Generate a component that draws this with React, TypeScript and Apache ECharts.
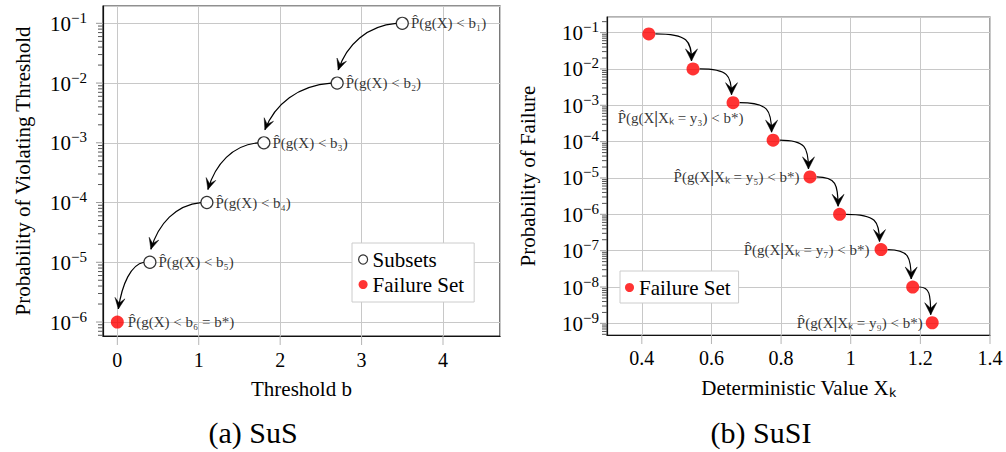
import React, { useEffect, useRef } from "react";
import * as echarts from "echarts";

const FONT = "Liberation Serif, serif";

// ---------- Panel (a) SuS ----------
const susThreshold = [3.5, 2.7, 1.8, 1.1, 0.4];
const susProb = [1e-1, 1e-2, 1e-3, 1e-4, 1e-5];
const susLabels = [
  "P̂(g(X) < b₁)",
  "P̂(g(X) < b₂)",
  "P̂(g(X) < b₃)",
  "P̂(g(X) < b₄)",
  "P̂(g(X) < b₅)",
];
const failThreshold = [0];
const failProb = [1e-6];
const failLabels = ["P̂(g(X) < b₆ = b*)"];
const leftXTicks = [0, 1, 2, 3, 4];
const leftYExps = [-6, -5, -4, -3, -2, -1];

// ---------- Panel (b) SuSI ----------
const susiX = [0.42, 0.547, 0.662, 0.777, 0.883, 0.968, 1.087, 1.178, 1.234];
const susiProb = [9.2e-2, 1e-2, 1.18e-3, 1.1e-4, 1.07e-5, 1e-6, 1.07e-7, 1e-8, 1.04e-9];
const susiLabels = [
  "",
  "",
  "P̂(g(X{bar||}Xₖ = y₃) < b*)",
  "",
  "P̂(g(X{bar||}Xₖ = y₅) < b*)",
  "",
  "P̂(g(X{bar||}Xₖ = y₇) < b*)",
  "",
  "P̂(g(X{bar||}Xₖ = y₉) < b*)",
];
const rightXTicks = [0.4, 0.6, 0.8, 1, 1.2, 1.4];
const rightYExps = [-9, -8, -7, -6, -5, -4, -3, -2, -1];

// axis ranges
const L_XMIN = -0.176, L_XMAX = 4.7;
const L_YMIN = Math.pow(10, -6.234), L_YMAX = Math.pow(10, -0.71);
const R_XMIN = 0.3, R_XMAX = 1.4;
const R_YMIN = Math.pow(10, -9.32), R_YMAX = Math.pow(10, -0.571);

// label placement config for panel (b)
const susiLabelCfg = [
  { show: false },
  { show: false },
  { show: true, position: "left", distance: 4, offset: [21, 15] },
  { show: false },
  { show: true, position: "left", distance: 4 },
  { show: false },
  { show: true, position: "left", distance: 5 },
  { show: false },
  { show: true, position: "left", distance: 3 },
];

function minorValues(lo: number, hi: number) {
  const out: number[] = [];
  for (let e = Math.floor(Math.log10(lo)); e <= Math.ceil(Math.log10(hi)); e++) {
    for (let m = 2; m <= 9; m++) {
      const v = m * Math.pow(10, e);
      if (v >= lo && v <= hi) out.push(v);
    }
  }
  return out;
}

function tickData(xt: number[], yexp: number[], lo: number, hi: number, px: number, py: number) {
  const d: number[][] = [];
  xt.forEach((v) => d.push([px, py, 0, v]));
  yexp.forEach((e) => d.push([px, py, 1, Math.pow(10, e)]));
  minorValues(lo, hi).forEach((v) => d.push([px, py, 2, v]));
  return d;
}

const renderTicks = (params: any, api: any) => {
  const kind = api.value(2);
  const v = api.value(3);
  const cs = params.coordSys;
  if (kind === 0) {
    const x = api.coord([v, api.value(1)])[0];
    return {
      type: "line",
      shape: { x1: x, y1: cs.y + cs.height, x2: x, y2: cs.y + cs.height + 9 },
      style: { stroke: "#b5b5b5", lineWidth: 1 },
    };
  }
  const y = api.coord([api.value(0), v])[1];
  const len = kind === 1 ? 7 : 5;
  return {
    type: "line",
    shape: { x1: cs.x - len, y1: y, x2: cs.x, y2: y },
    style: { stroke: kind === 1 ? "#999" : "#555", lineWidth: 1 },
  };
};

function arrowHead(tip: number[], dir: number[], L: number, W: number) {
  const n = Math.hypot(dir[0], dir[1]) || 1;
  const d = [dir[0] / n, dir[1] / n];
  const p = [-d[1], d[0]];
  return {
    type: "polygon",
    shape: {
      points: [
        tip,
        [tip[0] - L * d[0] + W * p[0], tip[1] - L * d[1] + W * p[1]],
        [tip[0] - 0.55 * L * d[0], tip[1] - 0.55 * L * d[1]],
        [tip[0] - L * d[0] - W * p[0], tip[1] - L * d[1] - W * p[1]],
      ],
    },
    style: { fill: "#000", stroke: "#000", lineWidth: 0.5 },
  };
}

const renderArrowLeft = (params: any, api: any) => {
  const a = api.coord([api.value(0), api.value(1)]);
  const b = api.coord([api.value(2), api.value(3)]);
  const p0 = [a[0] - 6, a[1]];
  const p3 = [b[0] + 1, b[1] - 13];
  const adx = Math.abs(p3[0] - p0[0]);
  const ady = Math.abs(p3[1] - p0[1]);
  const p1 = [p0[0] - 0.5 * adx, p0[1] + 0.05 * ady];
  const p2 = [p3[0] + 0.15 * adx, p3[1] - 0.55 * ady];
  return {
    type: "group",
    children: [
      {
        type: "bezierCurve",
        shape: { x1: p0[0], y1: p0[1], cpx1: p1[0], cpy1: p1[1], cpx2: p2[0], cpy2: p2[1], x2: p3[0], y2: p3[1] },
        style: { stroke: "#000", lineWidth: 1.2, fill: "none" },
      },
      arrowHead(p3, [p3[0] - p2[0], p3[1] - p2[1]], 11, 5),
    ],
  };
};

const renderArrowRight = (params: any, api: any) => {
  const a = api.coord([api.value(0), api.value(1)]);
  const b = api.coord([api.value(2), api.value(3)]);
  const p0 = [a[0] + 6.5, a[1]];
  const p3 = [b[0] - 1.5, b[1] - 8];
  const adx = Math.abs(p3[0] - p0[0]);
  const ady = Math.abs(p3[1] - p0[1]);
  const p1 = [p0[0] + 0.9 * adx, p0[1]];
  const p2 = [p3[0], p3[1] - 0.75 * ady];
  return {
    type: "group",
    children: [
      {
        type: "bezierCurve",
        shape: { x1: p0[0], y1: p0[1], cpx1: p1[0], cpy1: p1[1], cpx2: p2[0], cpy2: p2[1], x2: p3[0], y2: p3[1] },
        style: { stroke: "#000", lineWidth: 1.2, fill: "none" },
      },
      arrowHead(p3, [0, 1], 12, 6),
    ],
  };
};

const isDecade = (v: number) => Math.abs(Math.log10(v) - Math.round(Math.log10(v))) < 1e-6;
const yLabel = (v: number) => (isDecade(v) ? `{b|10}{s|−${-Math.round(Math.log10(v))}}` : "");
const xLabelFrom = (ticks: number[]) => (v: number) => {
  const t = ticks.find((x) => Math.abs(x - v) < 1e-6);
  return t === undefined ? "" : String(t);
};

const tickLabelRich = {
  b: { fontSize: 21, fontFamily: FONT, color: "#000", lineHeight: 22, verticalAlign: "bottom" },
  s: { fontSize: 15, fontFamily: FONT, color: "#000", lineHeight: 15, padding: [0, 0, 9, 0], verticalAlign: "bottom" },
};

const nameStyle = { fontSize: 21, fontFamily: FONT, color: "#000" };

export default function App() {
  const ref = useRef<HTMLDivElement>(null);
  useEffect(() => {
    if (!ref.current) return;
    const chart = echarts.init(ref.current, undefined, { renderer: "svg" });
    const allLeft = [
      ...susThreshold.map((x, i) => [x, susProb[i]]),
      ...failThreshold.map((x, i) => [x, failProb[i]]),
    ];
    const leftArrows = allLeft.slice(0, -1).map((p, i) => [p[0], p[1], allLeft[i + 1][0], allLeft[i + 1][1]]);
    const rightArrows = susiX.slice(0, -1).map((x, i) => [x, susiProb[i], susiX[i + 1], susiProb[i + 1]]);

    const option: any = {
      animation: false,
      grid: [
        { left: 103, top: 6, width: 397, height: 330, show: true, borderColor: "#222", borderWidth: 1.2, backgroundColor: "transparent" },
        { left: 607, top: 17, width: 383, height: 318, show: true, borderColor: "#666", borderWidth: 1.2, backgroundColor: "transparent" },
      ],
      xAxis: [
        {
          gridIndex: 0, type: "value", min: L_XMIN, max: L_XMAX,
          axisLine: { show: true, onZero: false, lineStyle: { color: "#111", width: 1.2 } },
          axisTick: { show: false },
          splitLine: { show: true, lineStyle: { color: "#c8c8c8", width: 1 } },
          axisLabel: { margin: 14, fontSize: 20, fontFamily: FONT, color: "#000", formatter: xLabelFrom(leftXTicks) },
          name: "Threshold b", nameLocation: "middle", nameGap: 42, nameTextStyle: nameStyle,
        },
        {
          gridIndex: 1, type: "value", min: R_XMIN, max: R_XMAX,
          axisLine: { show: true, onZero: false, lineStyle: { color: "#111", width: 1.2 } },
          axisTick: { show: false },
          splitLine: { show: true, lineStyle: { color: "#c8c8c8", width: 1 } },
          axisLabel: { margin: 13, fontSize: 20, fontFamily: FONT, color: "#000", formatter: xLabelFrom(rightXTicks) },
          name: "Deterministic Value Xₖ", nameLocation: "middle", nameGap: 42, nameTextStyle: nameStyle,
        },
      ],
      yAxis: [
        {
          gridIndex: 0, type: "log", logBase: 10, min: L_YMIN, max: L_YMAX,
          axisLine: { show: true, onZero: false, lineStyle: { color: "#111", width: 1.2 } },
          axisTick: { show: false },
          splitLine: { show: true, lineStyle: { color: "#c8c8c8", width: 1 } },
          axisLabel: { margin: 16, formatter: yLabel, rich: tickLabelRich },
          name: "Probability of Violating Threshold", nameLocation: "middle", nameGap: 70, nameTextStyle: nameStyle,
        },
        {
          gridIndex: 1, type: "log", logBase: 10, min: R_YMIN, max: R_YMAX,
          axisLine: { show: true, onZero: false, lineStyle: { color: "#111", width: 1.2 } },
          axisTick: { show: false },
          splitLine: { show: true, lineStyle: { color: "#c8c8c8", width: 1 } },
          axisLabel: { margin: 8, formatter: yLabel, rich: tickLabelRich },
          name: "Probability of Failure", nameLocation: "middle", nameGap: 69, nameTextStyle: nameStyle,
        },
      ],
      legend: [
        {
          orient: "vertical", left: 352, top: 243, selectedMode: false,
          icon: "circle", itemWidth: 9, itemHeight: 9, itemGap: 4,
          padding: [6, 10, 7, 6], backgroundColor: "#fff", borderColor: "#ccc", borderWidth: 1,
          textStyle: { fontSize: 21, fontFamily: FONT, color: "#000" },
          data: [
            { name: "Subsets", itemStyle: { color: "#fff", borderColor: "#000", borderWidth: 1.2 } },
            { name: "Failure Set", itemStyle: { color: "#ff0000", borderWidth: 0 } },
          ],
        },
        {
          orient: "vertical", left: 620, top: 271, selectedMode: false,
          icon: "circle", itemWidth: 9, itemHeight: 9,
          padding: [6, 8, 5, 5], backgroundColor: "#fff", borderColor: "#ccc", borderWidth: 1,
          textStyle: { fontSize: 21, fontFamily: FONT, color: "#000" },
          data: [{ name: "Failure Set", itemStyle: { color: "#ff0000", borderWidth: 0 } }],
        },
      ],
      series: [
        {
          type: "custom", xAxisIndex: 0, yAxisIndex: 0, z: 1,
          renderItem: renderTicks,
          data: tickData(leftXTicks, leftYExps, L_YMIN, L_YMAX, 1, 1e-3),
        },
        {
          type: "custom", xAxisIndex: 1, yAxisIndex: 1, z: 1,
          renderItem: renderTicks,
          data: tickData(rightXTicks, rightYExps, R_YMIN, R_YMAX, 0.8, 1e-3),
        },
        {
          type: "custom", xAxisIndex: 0, yAxisIndex: 0, z: 2,
          renderItem: renderArrowLeft,
          data: leftArrows,
        },
        {
          type: "custom", xAxisIndex: 1, yAxisIndex: 1, z: 2,
          renderItem: renderArrowRight,
          data: rightArrows,
        },
        {
          name: "Subsets", type: "scatter", xAxisIndex: 0, yAxisIndex: 0, z: 3,
          symbol: "circle", symbolSize: 12,
          itemStyle: { color: "#fff", borderColor: "#000", borderWidth: 1.2 },
          data: susThreshold.map((x, i) => [x, susProb[i]]),
          label: {
            show: true, position: "right", distance: 2,
            fontSize: 15, fontFamily: FONT, color: "#000",
            formatter: (p: any) => susLabels[p.dataIndex],
          },
        },
        {
          name: "Failure Set", type: "scatter", xAxisIndex: 0, yAxisIndex: 0, z: 3,
          symbol: "circle", symbolSize: 13,
          itemStyle: { color: "#ff0000" },
          data: failThreshold.map((x, i) => [x, failProb[i]]),
          label: {
            show: true, position: "right", distance: 4,
            fontSize: 15, fontFamily: FONT, color: "#000",
            formatter: (p: any) => failLabels[p.dataIndex],
          },
        },
        {
          name: "Failure Set", type: "scatter", xAxisIndex: 1, yAxisIndex: 1, z: 3,
          symbol: "circle", symbolSize: 13,
          itemStyle: { color: "#ff0000" },
          data: susiX.map((x, i) => ({ value: [x, susiProb[i]], label: susiLabelCfg[i] })),
          label: {
            fontSize: 15, fontFamily: FONT, color: "#000",
            formatter: (p: any) => susiLabels[p.dataIndex],
            rich: { bar: { fontSize: 17, fontWeight: "bold", fontFamily: FONT, color: "#000" } },
          },
        },
      ],
      graphic: [
        { type: "text", x: 253, y: 432, style: { text: "(a) SuS", fontFamily: FONT, fontSize: 30, fill: "#000", align: "center", verticalAlign: "middle" } },
        { type: "text", x: 761, y: 432, style: { text: "(b) SuSI", fontFamily: FONT, fontSize: 30, fill: "#000", align: "center", verticalAlign: "middle" } },
      ],
    };
    chart.setOption(option);
    return () => chart.dispose();
  }, []);
  return <div ref={ref} style={{ position: "absolute", left: 0, top: 0, width: 1006, height: 452, background: "#fff" }} />;
}
